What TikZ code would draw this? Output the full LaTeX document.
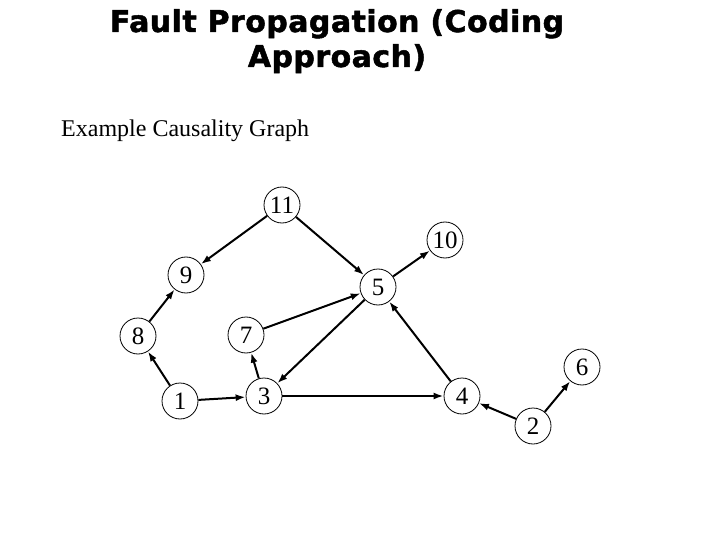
\documentclass[tikz,border=0pt]{standalone}
\usepackage{fontspec}
\setmainfont{Liberation Serif}
\newfontfamily\headfont{DejaVu Sans}[BoldFeatures={FakeBold=1.6,LetterSpace=1.5}]
\usepackage{tikz}
\usetikzlibrary{arrows.meta,positioning}
\tikzset{
  >={Latex[length=10pt,width=7pt]},
  ev/.style={circle,draw,line width=0.8pt,minimum size=36pt,inner sep=0pt,
             font=\fontsize{25}{27}\selectfont},
  cause/.style={->,line width=2pt},
  head/.style={font=\headfont\bfseries\fontsize{30}{35}\selectfont,inner sep=0pt,anchor=base},
  sub/.style={font=\fontsize{24}{28}\selectfont,inner sep=0pt,anchor=base west},
}
\begin{document}
\begin{tikzpicture}[x=1pt,y=-1pt]
  \useasboundingbox (0,0) rectangle (720,540);
  \node[head] (title1) at (337,32) {Fault Propagation (Coding};
  \node[head] (title2) at (337,67) {Approach)};
  \node[sub] (caption) at (61,137) {Example Causality Graph};

  \node[ev] (c11) at (282,205) {11};
  \node[ev] (c10) at (445,240) {10};
  \node[ev] (c9)  at (186,275) {9};
  \node[ev] (c5)  at (378,287) {5};
  \node[ev] (c8)  at (138,336) {8};
  \node[ev] (c7)  at (246,335) {7};
  \node[ev] (c6)  at (582,367) {6};
  \node[ev] (c1)  at (180,401) {1};
  \node[ev] (c3)  at (264,396) {3};
  \node[ev] (c4)  at (462,396) {4};
  \node[ev] (c2)  at (533,426) {2};

  \draw[cause] (c11) -- (c9);
  \draw[cause] (c11) -- (c5);
  \draw[cause] (c5) -- (c10);
  \draw[cause] (c8) -- (c9);
  \draw[cause] (c1) -- (c8);
  \draw[cause] (c1) -- (c3);
  \draw[cause] (c3) -- (c7);
  \draw[cause] (c7) -- (c5);
  \draw[cause] (c5) -- (c3);
  \draw[cause] (c3) -- (c4);
  \draw[cause] (c4) -- (c5);
  \draw[cause] (c2) -- (c4);
  \draw[cause] (c2) -- (c6);
\end{tikzpicture}
\end{document}
